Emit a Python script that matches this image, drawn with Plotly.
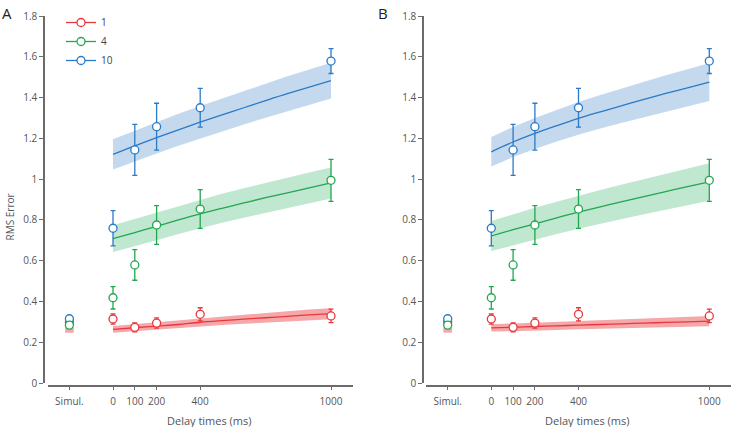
import plotly.graph_objects as go

# ---------------- data ----------------
set_sizes = ["1", "4", "10"]
colors = {"1": "#e8383d", "4": "#22a650", "10": "#2a7ac6"}
band_colors = {"1": "rgba(236,80,86,0.50)", "4": "rgba(60,180,105,0.32)", "10": "rgba(60,130,200,0.30)"}

# observed points: x positions (Simul. plotted at -200)
obs_x = [-200, 0, 100, 200, 400, 1000]
obs_y = {
    "1":  [0.299, 0.314, 0.273, 0.294, 0.337, 0.329],
    "4":  [0.284, 0.418, 0.579, 0.775, 0.853, 0.994],
    "10": [0.315, 0.759, 1.143, 1.257, 1.350, 1.579],
}
obs_err = {
    "1":  [0.008, 0.025, 0.022, 0.025, 0.032, 0.033],
    "4":  [0.008, 0.055, 0.075, 0.095, 0.095, 0.103],
    "10": [0.008, 0.086, 0.125, 0.115, 0.095, 0.061],
}

# model fits
fit_x = [0, 100, 200, 300, 400, 500, 600, 700, 800, 900, 1000]
fit_A = {
    "1":  [0.263, 0.271, 0.279, 0.287, 0.298, 0.306, 0.313, 0.320, 0.327, 0.334, 0.340],
    "4":  [0.708, 0.738, 0.768, 0.800, 0.830, 0.857, 0.883, 0.909, 0.933, 0.957, 0.981],
    "10": [1.121, 1.163, 1.203, 1.242, 1.279, 1.315, 1.350, 1.385, 1.419, 1.451, 1.483],
}
half_A = {
    "1":  [0.017, 0.018, 0.019, 0.020, 0.021, 0.022, 0.023, 0.024, 0.025, 0.026, 0.027],
    "4":  [0.066, 0.067, 0.068, 0.069, 0.070, 0.071, 0.072, 0.073, 0.074, 0.075, 0.076],
    "10": [0.074, 0.075, 0.077, 0.078, 0.080, 0.081, 0.082, 0.084, 0.085, 0.087, 0.088],
}
fit_B = {
    "1":  [0.270, 0.273, 0.277, 0.280, 0.284, 0.287, 0.290, 0.294, 0.297, 0.300, 0.303],
    "4":  [0.721, 0.752, 0.781, 0.810, 0.838, 0.864, 0.889, 0.914, 0.939, 0.963, 0.986],
    "10": [1.134, 1.182, 1.224, 1.262, 1.298, 1.330, 1.361, 1.391, 1.420, 1.448, 1.476],
}
half_B = {
    "1":  [0.018, 0.019, 0.019, 0.020, 0.020, 0.021, 0.022, 0.022, 0.023, 0.024, 0.025],
    "4":  [0.074, 0.076, 0.078, 0.079, 0.081, 0.083, 0.085, 0.086, 0.088, 0.090, 0.092],
    "10": [0.072, 0.074, 0.076, 0.078, 0.080, 0.082, 0.084, 0.087, 0.089, 0.091, 0.093],
}
# simultaneous-condition fit (red only visible)
simul_fit_x = [-220, -180]
simul_fit_y = [0.260, 0.260]
simul_fit_half = [0.013, 0.013]

x_tickvals = [-200, 0, 100, 200, 400, 1000]
x_ticktext = ["Simul.", "0", "100", "200", "400", "1000"]
y_tickvals = [0, 0.2, 0.4, 0.6, 0.8, 1.0, 1.2, 1.4, 1.6, 1.8]
y_ticktext = ["0", "0.2", "0.4", "0.6", "0.8", "1", "1.2", "1.4", "1.6", "1.8"]

# ---------------- figure ----------------
W, H = 732, 427
fig = go.Figure()


def band(xs, ys, hs, color, xa, ya):
    up = [y + h for y, h in zip(ys, hs)]
    lo = [y - h for y, h in zip(ys, hs)]
    return go.Scatter(x=xs + xs[::-1], y=up + lo[::-1], fill="toself", fillcolor=color,
                      line=dict(width=0), mode="lines", hoverinfo="skip", showlegend=False,
                      xaxis=xa, yaxis=ya)


for panel, fits, halfs, xa, ya in [("A", fit_A, half_A, "x", "y"), ("B", fit_B, half_B, "x2", "y2")]:
    fig.add_trace(band(simul_fit_x, simul_fit_y, simul_fit_half, band_colors["1"], xa, ya))
    for s in set_sizes:
        fig.add_trace(band(fit_x, fits[s], halfs[s], band_colors[s], xa, ya))
    for s in set_sizes:
        fig.add_trace(go.Scatter(x=fit_x, y=fits[s], mode="lines", line=dict(color=colors[s], width=1.3, shape="spline"),
                                 showlegend=False, xaxis=xa, yaxis=ya))
    for s in ["1", "10", "4"]:
        fig.add_trace(go.Scatter(x=obs_x, y=obs_y[s], mode="markers",
                                 marker=dict(symbol="circle", size=8, color="white", line=dict(color=colors[s], width=1.3)),
                                 error_y=dict(type="data", array=obs_err[s], color=colors[s], thickness=1.3, width=2.5),
                                 showlegend=False, xaxis=xa, yaxis=ya))

# legend entries
for s in set_sizes:
    fig.add_trace(go.Scatter(x=[None], y=[None], mode="lines+markers", name=s,
                             line=dict(color=colors[s], width=1.3),
                             marker=dict(symbol="circle", size=8, color="white", line=dict(color=colors[s], width=1.3)),
                             xaxis="x", yaxis="y"))

y_bot = (H - 383) / H
y_top = (H - 16) / H
xaxis_pos = (H - 385.5) / H
fontfam = "Open Sans, Noto Sans, sans-serif"
tickfont = dict(family=fontfam, size=10, color="#555555")

common_x = dict(range=[-300, 1100], tickvals=x_tickvals, ticktext=x_ticktext, showgrid=False, zeroline=False,
                showline=True, linecolor="#6b6b6b", linewidth=1.5, ticks="outside", ticklen=4, tickwidth=1.2,
                tickcolor="#6b6b6b", tickfont=tickfont, anchor="free", position=xaxis_pos, automargin=False,
                ticklabelstandoff=3)
common_y = dict(range=[0, 1.8], tickvals=y_tickvals, ticktext=y_ticktext, showgrid=False, zeroline=False,
                showline=True, linecolor="#6b6b6b", linewidth=1.5, ticks="outside", ticklen=4, tickwidth=1.2,
                tickcolor="#6b6b6b", tickfont=tickfont, domain=[y_bot, y_top], anchor="free", automargin=False)

fig.update_layout(
    width=W, height=H, margin=dict(l=0, r=0, t=0, b=0, autoexpand=False),
    paper_bgcolor="white", plot_bgcolor="white",
    xaxis=dict(common_x, domain=[47.6 / W, 352.8 / W]),
    xaxis2=dict(common_x, domain=[425.9 / W, 731.1 / W]),
    yaxis=dict(common_y, position=44 / W),
    yaxis2=dict(common_y, position=423 / W),
    legend=dict(x=61 / W, y=1 - 8 / H, xanchor="left", yanchor="top", bgcolor="rgba(0,0,0,0)",
                font=dict(family=fontfam, size=10, color="#444444"), itemwidth=30),
    annotations=[
        dict(text="A", x=0, y=1 - 1 / H, xref="paper", yref="paper", xanchor="left", yanchor="top",
             showarrow=False, font=dict(family=fontfam, size=15, color="#222222")),
        dict(text="B", x=376 / W, y=1 - 1 / H, xref="paper", yref="paper", xanchor="left", yanchor="top",
             showarrow=False, font=dict(family=fontfam, size=15, color="#222222")),
        dict(text="RMS Error", x=9 / W, y=(H - 217.5) / H, xref="paper", yref="paper", textangle=-90,
             xanchor="center", yanchor="middle",
             showarrow=False, font=dict(family=fontfam, size=10, color="#555555")),
        dict(text="Delay times (ms)", x=209 / W, y=(H - 420) / H, xref="paper", yref="paper",
             xanchor="center", yanchor="middle",
             showarrow=False, font=dict(family=fontfam, size=11, color="#555555")),
        dict(text="Delay times (ms)", x=587 / W, y=(H - 420) / H, xref="paper", yref="paper",
             xanchor="center", yanchor="middle",
             showarrow=False, font=dict(family=fontfam, size=11, color="#555555")),
    ],
)

fig.write_html("out.html", config={"displayModeBar": False},
               post_script="document.body.style.margin='0px';document.body.style.overflow='hidden';")
